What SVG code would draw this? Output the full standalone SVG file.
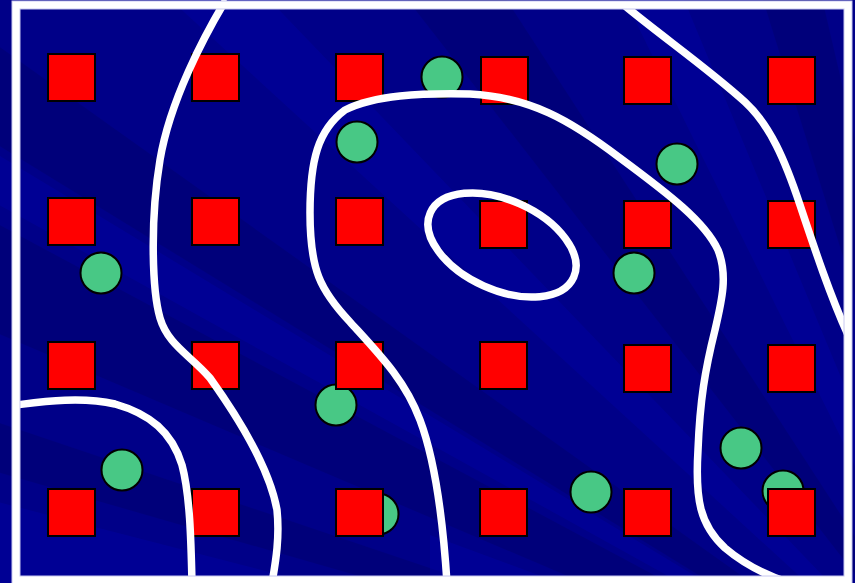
<svg xmlns="http://www.w3.org/2000/svg" width="855" height="583" viewBox="0 0 855 583">
<style>
.sq{fill:#ff0000;stroke:#000;stroke-width:2}
.pt{fill:#48c885;stroke:#000;stroke-width:2}
.ln{fill:none;stroke:#fff;stroke-width:7.5;stroke-linecap:round;stroke-linejoin:round}
.dk{fill:#000070;opacity:0.55}
.lt{fill:#0000a8;opacity:0.4}
</style>
<g id="background">
<rect x="0" y="0" width="855" height="583" fill="#000088"/>
<polygon class="dk" points="1000,760 -10,40 -10,140"/>
<polygon class="dk" points="1000,760 -10,220 -10,330"/>
<polygon class="dk" points="1000,760 -10,420 -10,470"/>
<polygon class="lt" points="1000,760 -10,500 -10,583"/>
<polygon class="lt" points="1000,760 -10,150 -10,200"/>
<polygon class="lt" points="1000,760 160,-10 260,-10"/>
<polygon class="dk" points="1000,760 400,-10 500,-10"/>
<polygon class="lt" points="1000,760 620,-10 680,-10"/>
<polygon class="dk" points="1000,760 760,-10 820,-10"/>
<polygon class="lt" points="430,535 560,583 430,583"/>
</g>
<g id="points">
<circle class="pt" cx="442" cy="77" r="20.5"/>
<circle class="pt" cx="357" cy="142" r="20.5"/>
<circle class="pt" cx="677" cy="164" r="20.5"/>
<circle class="pt" cx="101" cy="273" r="20.5"/>
<circle class="pt" cx="634" cy="273" r="20.5"/>
<circle class="pt" cx="336" cy="405" r="20.5"/>
<circle class="pt" cx="122" cy="470" r="20.5"/>
<circle class="pt" cx="378" cy="514" r="20.5"/>
<circle class="pt" cx="591" cy="492" r="20.5"/>
<circle class="pt" cx="741" cy="448" r="20.5"/>
<circle class="pt" cx="783" cy="491" r="20.5"/>
</g>
<g id="grid">
<rect class="sq" x="48" y="54" width="47" height="47"/>
<rect class="sq" x="192" y="54" width="47" height="47"/>
<rect class="sq" x="336" y="54" width="47" height="47"/>
<rect class="sq" x="481" y="57" width="47" height="47"/>
<rect class="sq" x="624" y="57" width="47" height="47"/>
<rect class="sq" x="768" y="57" width="47" height="47"/>
<rect class="sq" x="48" y="198" width="47" height="47"/>
<rect class="sq" x="192" y="198" width="47" height="47"/>
<rect class="sq" x="336" y="198" width="47" height="47"/>
<rect class="sq" x="480" y="201" width="47" height="47"/>
<rect class="sq" x="624" y="201" width="47" height="47"/>
<rect class="sq" x="768" y="201" width="47" height="47"/>
<rect class="sq" x="48" y="342" width="47" height="47"/>
<rect class="sq" x="192" y="342" width="47" height="47"/>
<rect class="sq" x="336" y="342" width="47" height="47"/>
<rect class="sq" x="480" y="342" width="47" height="47"/>
<rect class="sq" x="624" y="345" width="47" height="47"/>
<rect class="sq" x="768" y="345" width="47" height="47"/>
<rect class="sq" x="48" y="489" width="47" height="47"/>
<rect class="sq" x="192" y="489" width="47" height="47"/>
<rect class="sq" x="336" y="489" width="47" height="47"/>
<rect class="sq" x="480" y="489" width="47" height="47"/>
<rect class="sq" x="624" y="489" width="47" height="47"/>
<rect class="sq" x="768" y="489" width="47" height="47"/>
</g>
<g id="contours">
<path class="ln" d="M224,3 C205,35 170,100 160,160 C150,220 152,290 160,318 C168,345 190,355 210,378 C240,420 270,470 277,510 C280,540 275,565 272,583"/>
<path class="ln" d="M16,405 C40,402 80,396 115,404 C150,414 172,432 182,465 C190,495 191,540 192,583"/>
<path class="ln" d="M447,583 C443,520 435,460 420,420 C405,380 380,355 350,322 C320,290 310,270 310,213 C310,160 318,130 345,110 C375,95 420,93 470,94 C530,97 570,120 620,158 C670,195 705,222 718,250 C728,275 722,300 715,330 C705,370 700,400 698,450 C695,500 700,525 725,548 C745,565 765,575 790,583"/>
<path class="ln" d="M624,5 C660,35 710,70 745,102 C770,125 785,160 800,205 C815,250 830,295 848,335"/>
<ellipse class="ln" cx="502" cy="245" rx="78.6" ry="44.8" transform="rotate(24.2 502 245)"/>
</g>
<g id="frame">
<rect x="16" y="5" width="832" height="575" fill="none" stroke="#c8c8f0" stroke-width="9"/>
<rect x="16" y="5" width="832" height="575" fill="none" stroke="#fff" stroke-width="7"/>
</g>
</svg>
